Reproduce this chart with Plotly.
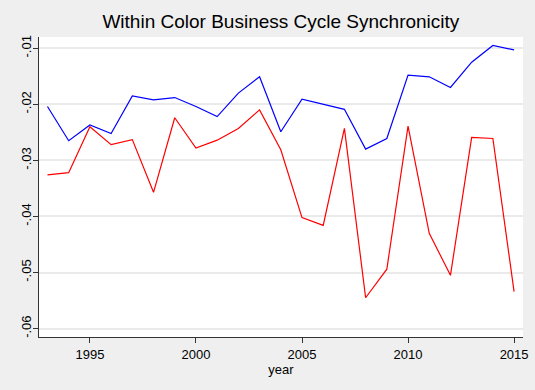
import plotly.graph_objects as go

years = list(range(1993, 2016))
blue_vals = [-0.0204, -0.0265, -0.0237, -0.0252, -0.0185, -0.0192, -0.0188, -0.0204,
             -0.0222, -0.0180, -0.0151, -0.0249, -0.0191, -0.0200, -0.0209, -0.0280,
             -0.0261, -0.0148, -0.0151, -0.0170, -0.0125, -0.0095, -0.0103]
red_vals = [-0.0326, -0.0322, -0.0240, -0.0272, -0.0263, -0.0357, -0.0224, -0.0278,
            -0.0264, -0.0243, -0.0210, -0.0281, -0.0402, -0.0416, -0.0243, -0.0545,
            -0.0494, -0.0239, -0.0430, -0.0505, -0.0259, -0.0261, -0.0534]
x_ticks = [1995, 2000, 2005, 2010, 2015]
y_ticks = [-0.01, -0.02, -0.03, -0.04, -0.05, -0.06]
y_labels = ["-.01", "-.02", "-.03", "-.04", "-.05", "-.06"]

fig = go.Figure()
fig.add_trace(go.Scatter(x=years, y=blue_vals, mode="lines",
                         line=dict(color="#0000FF", width=1.2), showlegend=False))
fig.add_trace(go.Scatter(x=years, y=red_vals, mode="lines",
                         line=dict(color="#FF0000", width=1.2), showlegend=False))

fig.update_layout(
    width=535, height=390,
    paper_bgcolor="#EFEFEF", plot_bgcolor="#FFFFFF",
    margin=dict(l=39, r=12, t=37, b=53),
    font=dict(family="Liberation Sans, Arial, sans-serif", color="#000000", size=13),
    title=dict(text="Within Color Business Cycle Synchronicity", x=0.525, xanchor="center",
               y=1 - 21 / 390, yanchor="middle", font=dict(size=19, color="#000000")),
    xaxis=dict(range=[1992.6, 2015.42], tickvals=x_ticks, ticktext=[str(t) for t in x_ticks],
               showgrid=False, zeroline=False, showline=True, linecolor="#333333", linewidth=1.2,
               ticks="outside", ticklen=5, tickcolor="#333333", automargin=False,
               title=dict(text="year", standoff=0, font=dict(size=13))),
    yaxis=dict(range=[-0.0615, -0.008], tickvals=y_ticks, ticktext=y_labels,
               showgrid=True, gridcolor="#EAEAEA", gridwidth=1.5, zeroline=False,
               showline=True, linecolor="#333333", linewidth=1.2, automargin=False,
               ticks="outside", ticklen=5, tickcolor="#333333", tickangle=-90,
               ticklabelstandoff=-3),
)

fig.write_html("out.html", config={"displayModeBar": False},
               post_script="document.body.style.margin='0px';document.body.style.overflow='hidden';")
